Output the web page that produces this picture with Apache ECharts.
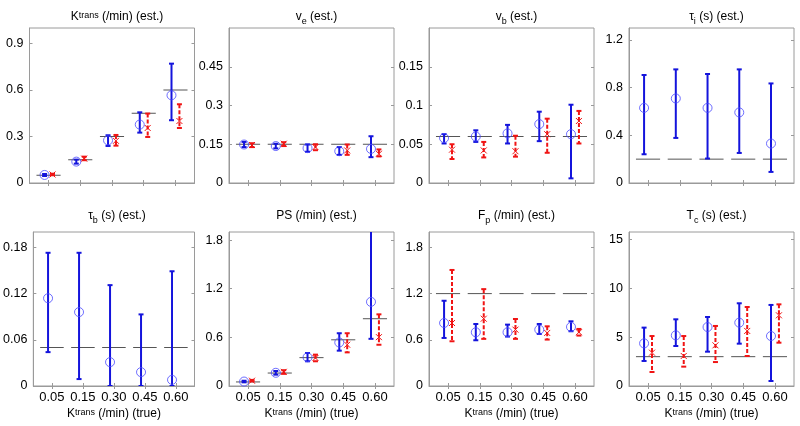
<!DOCTYPE html>
<html><head><meta charset="utf-8">
<script src="https://cdn.jsdelivr.net/npm/echarts@6/dist/echarts.min.js"></script>
<style>html,body{margin:0;padding:0;background:#fff}#c{width:800px;height:426px}</style>
</head><body><div id="c"></div>
<script>
const cats = ['0.05','0.15','0.30','0.45','0.60'];

// Panel 1: Ktrans
const ktransTrue = [0.05,0.15,0.30,0.45,0.60];
const ktransBlueMid = [0.052,0.138,0.275,0.377,0.566];
const ktransBlueLow = [0.045,0.125,0.239,0.325,0.405];
const ktransBlueHigh = [0.058,0.151,0.308,0.456,0.770];
const ktransRedMid = [0.055,0.157,0.272,0.355,0.400];
const ktransRedLow = [0.050,0.147,0.241,0.297,0.355];
const ktransRedHigh = [0.060,0.170,0.310,0.448,0.508];
const ktransTicks = [0,0.3,0.6,0.9];

// Panel 2: ve
const veTrue = [0.15,0.15,0.15,0.15,0.15];
const veBlueMid = [0.149,0.143,0.135,0.123,0.132];
const veBlueLow = [0.139,0.134,0.121,0.109,0.100];
const veBlueHigh = [0.159,0.152,0.149,0.139,0.181];
const veRedMid = [0.147,0.152,0.139,0.126,0.113];
const veRedLow = [0.139,0.143,0.127,0.109,0.103];
const veRedHigh = [0.154,0.158,0.150,0.149,0.130];
const veTicks = [0,0.15,0.3,0.45];

// Panel 3: vb
const vbTrue = [0.06,0.06,0.06,0.06,0.06];
const vbBlueMid = [0.058,0.060,0.064,0.076,0.063];
const vbBlueLow = [0.051,0.053,0.051,0.054,0.006];
const vbBlueHigh = [0.063,0.068,0.075,0.092,0.101];
const vbRedMid = [0.043,0.042,0.041,0.063,0.080];
const vbRedLow = [0.031,0.033,0.034,0.039,0.051];
const vbRedHigh = [0.050,0.053,0.061,0.083,0.093];
const vbTicks = [0,0.05,0.1,0.15];

// Panel 4: tau_i
const tauiTrue = [0.2,0.2,0.2,0.2,0.2];
const tauiBlueMid = [0.630,0.709,0.630,0.592,0.331];
const tauiBlueLow = [0.241,0.378,0.205,0.252,0.093];
const tauiBlueHigh = [0.906,0.953,0.914,0.953,0.835];
const tauiTicks = [0,0.4,0.8,1.2];

// Panel 5: tau_b
const taubTrue = [0.05,0.05,0.05,0.05,0.05];
const taubBlueMid = [0.114,0.096,0.031,0.018,0.008];
const taubBlueLow = [0.044,0.009,0,0,0];
const taubBlueHigh = [0.173,0.173,0.131,0.093,0.149];
const taubTicks = [0,0.06,0.12,0.18];

// Panel 6: PS
const psTrue = [0.05,0.16,0.35,0.57,0.83];
const psBlueMid = [0.055,0.163,0.354,0.537,1.038];
const psBlueLow = [0.045,0.140,0.305,0.436,0.582];
const psBlueHigh = [0.065,0.185,0.407,0.651,1.95];
const psRedMid = [0.065,0.175,0.346,0.509,0.603];
const psRedLow = [0.057,0.150,0.305,0.415,0.509];
const psRedHigh = [0.075,0.195,0.387,0.651,0.884];
const psTicks = [0,0.6,1.2,1.8];

// Panel 7: Fp
const fpTrue = [1.2,1.2,1.2,1.2,1.2];
const fpBlueMid = [0.818,0.698,0.698,0.732,0.767];
const fpBlueLow = [0.624,0.594,0.642,0.676,0.711];
const fpBlueHigh = [1.107,0.805,0.797,0.805,0.840];
const fpRedMid = [0.818,0.874,0.732,0.689,0.698];
const fpRedLow = [0.581,0.612,0.612,0.603,0.655];
const fpRedHigh = [1.507,1.258,0.870,0.775,0.741];
const fpTicks = [0,0.6,1.2,1.8];

// Panel 8: Tc
const tcTrue = [3,3,3,3,3];
const tcBlueMid = [4.36,5.18,6.03,6.48,5.11];
const tcBlueLow = [2.56,4.09,3.51,4.33,0.51];
const tcBlueHigh = [5.97,6.82,7.06,8.46,8.29];
const tcRedMid = [3.41,3.07,4.16,5.63,7.23];
const tcRedLow = [1.43,1.98,2.45,3.07,4.43];
const tcRedHigh = [5.11,5.11,6.14,8.08,8.35];
const tcTicks = [0,5,10,15];

const panels = [
  {title:'{n|K}{sup|trans}{n| (/min) (est.)}', yMax:1.0, ticks:ktransTicks, tru:ktransTrue,
   bm:ktransBlueMid, bl:ktransBlueLow, bh:ktransBlueHigh, rm:ktransRedMid, rl:ktransRedLow, rh:ktransRedHigh},
  {title:'{n|v}{sub|e}{n| (est.)}', yMax:0.6, ticks:veTicks, tru:veTrue,
   bm:veBlueMid, bl:veBlueLow, bh:veBlueHigh, rm:veRedMid, rl:veRedLow, rh:veRedHigh},
  {title:'{n|v}{sub|b}{n| (est.)}', yMax:0.2, ticks:vbTicks, tru:vbTrue,
   bm:vbBlueMid, bl:vbBlueLow, bh:vbBlueHigh, rm:vbRedMid, rl:vbRedLow, rh:vbRedHigh},
  {title:'{n|τ}{sub|i}{n| (s) (est.)}', yMax:1.3, ticks:tauiTicks, tru:tauiTrue,
   bm:tauiBlueMid, bl:tauiBlueLow, bh:tauiBlueHigh},
  {title:'{n|τ}{sub|b}{n| (s) (est.)}', yMax:0.2, ticks:taubTicks, tru:taubTrue,
   bm:taubBlueMid, bl:taubBlueLow, bh:taubBlueHigh},
  {title:'{n|PS (/min) (est.)}', yMax:1.9, ticks:psTicks, tru:psTrue,
   bm:psBlueMid, bl:psBlueLow, bh:psBlueHigh, rm:psRedMid, rl:psRedLow, rh:psRedHigh},
  {title:'{n|F}{sub|p}{n| (/min) (est.)}', yMax:2.0, ticks:fpTicks, tru:fpTrue,
   bm:fpBlueMid, bl:fpBlueLow, bh:fpBlueHigh, rm:fpRedMid, rl:fpRedLow, rh:fpRedHigh},
  {title:'{n|T}{sub|c}{n| (s) (est.)}', yMax:15.75, ticks:tcTicks, tru:tcTrue,
   bm:tcBlueMid, bl:tcBlueLow, bh:tcBlueHigh, rm:tcRedMid, rl:tcRedLow, rh:tcRedHigh}
];

const FONT = 'Liberation Sans, Arial, sans-serif';
const colLeft = [29.5, 229, 429, 629];
const gridW = 165;
const rowTop = [28, 232];
const rowH = [155, 154];
const titleTop = [6, 205];
const BLUE = '#1414dc', BLUE_M = '#4a4aff', RED = '#f01414', GRAY = '#555';
const xPos = cats.map((c, i) => i + 1);
const richStyles = {
  n: {fontSize: 12, fontFamily: FONT, color: '#000', lineHeight: 16, verticalAlign: 'top'},
  sup: {fontSize: 9, fontFamily: FONT, color: '#000', lineHeight: 9, verticalAlign: 'top'},
  sub: {fontSize: 9, fontFamily: FONT, color: '#000', lineHeight: 10, verticalAlign: 'top', padding: [6, 0, 0, 0]}
};

function errRender(dashed, color) {
  return function (params, api) {
    const x = api.value(0), lo = api.value(1), hi = api.value(2);
    const a = api.coord([x, hi]), b = api.coord([x, lo]);
    const style = {stroke: color, lineWidth: 2, lineDash: dashed ? [4, 2] : null, fill: null};
    const cap = 2.5;
    return {type: 'group', children: [
      {type: 'line', shape: {x1: a[0], y1: a[1], x2: b[0], y2: b[1]}, style: style},
      {type: 'line', shape: {x1: a[0] - cap, y1: a[1], x2: a[0] + cap, y2: a[1]}, style: {stroke: color, lineWidth: 2}},
      {type: 'line', shape: {x1: b[0] - cap, y1: b[1], x2: b[0] + cap, y2: b[1]}, style: {stroke: color, lineWidth: 2}}
    ]};
  };
}
function trueRender(params, api) {
  const x = api.value(0), y = api.value(1);
  const a = api.coord([x - 0.38, y]), b = api.coord([x + 0.38, y]);
  return {type: 'line', shape: {x1: a[0], y1: a[1], x2: b[0], y2: b[1]}, style: {stroke: GRAY, lineWidth: 1}};
}
function crossRender(params, api) {
  const p = api.coord([api.value(0), api.value(1)]);
  const s = 3;
  const st = {stroke: RED, lineWidth: 1};
  return {type: 'group', children: [
    {type: 'line', shape: {x1: p[0] - s, y1: p[1] - s, x2: p[0] + s, y2: p[1] + s}, style: st},
    {type: 'line', shape: {x1: p[0] - s, y1: p[1] + s, x2: p[0] + s, y2: p[1] - s}, style: st}
  ]};
}

const grids = [], xAxes = [], yAxes = [], series = [], titles = [];
const axisLineStyle = {color: '#9a9a9a', width: 1};
panels.forEach((p, k) => {
  const row = Math.floor(k / 4), col = k % 4;
  grids.push({left: colLeft[col], top: rowTop[row], width: gridW, height: rowH[row],
    show: true, borderColor: '#9a9a9a', borderWidth: 1, backgroundColor: '#fff'});
  titles.push({text: p.title, left: colLeft[col] + gridW / 2, top: titleTop[row], textAlign: 'center',
    textStyle: {rich: richStyles, fontSize: 12, fontWeight: 'normal'}});
  const gi = k;
  const xb = {gridIndex: gi, type: 'value', min: 0.4, max: 5.6,
    axisLine: {show: true, lineStyle: axisLineStyle},
    axisTick: {show: true, inside: true, length: 3, customValues: xPos, lineStyle: axisLineStyle},
    axisLabel: {show: row === 1, customValues: xPos, formatter: v => cats[Math.round(v) - 1],
      fontFamily: FONT, fontSize: 13, color: '#000', margin: 5},
    splitLine: {show: false}};
  if (row === 1) {
    xb.name = '{n|K}{sup|trans}{n| (/min) (true)}';
    xb.nameLocation = 'middle';
    xb.nameGap = 22;
    xb.nameTextStyle = {rich: richStyles};
  }
  xAxes.push(xb);
  xAxes.push({gridIndex: gi, type: 'value', position: 'top', min: 0.4, max: 5.6,
    axisLine: {show: false}, axisTick: {show: true, inside: true, length: 3, customValues: xPos, lineStyle: axisLineStyle},
    axisLabel: {show: false}, splitLine: {show: false}});
  yAxes.push({gridIndex: gi, type: 'value', min: 0, max: p.yMax,
    axisLine: {show: true, lineStyle: axisLineStyle},
    axisTick: {show: true, inside: true, length: 3, customValues: p.ticks, lineStyle: axisLineStyle},
    axisLabel: {show: true, customValues: p.ticks, formatter: v => String(+v.toFixed(4)),
      fontFamily: FONT, fontSize: 12.5, color: '#000', margin: 6},
    splitLine: {show: false}});
  yAxes.push({gridIndex: gi, type: 'value', position: 'right', min: 0, max: p.yMax,
    axisLine: {show: false},
    axisTick: {show: true, inside: true, length: 3, customValues: p.ticks, lineStyle: axisLineStyle},
    axisLabel: {show: false}, splitLine: {show: false}});
  const xi = 2 * k, yi = 2 * k;
  series.push({type: 'custom', xAxisIndex: xi, yAxisIndex: yi, renderItem: trueRender, clip: true,
    data: cats.map((c, i) => [xPos[i], p.tru[i]]), z: 1, silent: true});
  series.push({type: 'custom', xAxisIndex: xi, yAxisIndex: yi, renderItem: errRender(false, BLUE), clip: true,
    data: cats.map((c, i) => [xPos[i] - 0.125, p.bl[i], p.bh[i]]), z: 2, silent: true});
  series.push({type: 'scatter', xAxisIndex: xi, yAxisIndex: yi, symbol: 'circle', symbolSize: 9,
    itemStyle: {color: 'rgba(0,0,0,0)', borderColor: BLUE_M, borderWidth: 1}, clip: true,
    data: cats.map((c, i) => [xPos[i] - 0.125, p.bm[i]]), z: 3, silent: true});
  if (p.rm) {
    series.push({type: 'custom', xAxisIndex: xi, yAxisIndex: yi, renderItem: errRender(true, RED), clip: true,
      data: cats.map((c, i) => [xPos[i] + 0.125, p.rl[i], p.rh[i]]), z: 2, silent: true});
    series.push({type: 'custom', xAxisIndex: xi, yAxisIndex: yi, renderItem: crossRender, clip: true,
      data: cats.map((c, i) => [xPos[i] + 0.125, p.rm[i]]), z: 3, silent: true});
  }
});

const chart = echarts.init(document.getElementById('c'), null, {renderer: 'canvas'});
chart.setOption({
  animation: false,
  backgroundColor: '#fff',
  title: titles,
  grid: grids,
  xAxis: xAxes,
  yAxis: yAxes,
  series: series
});
</script>
</body></html>
